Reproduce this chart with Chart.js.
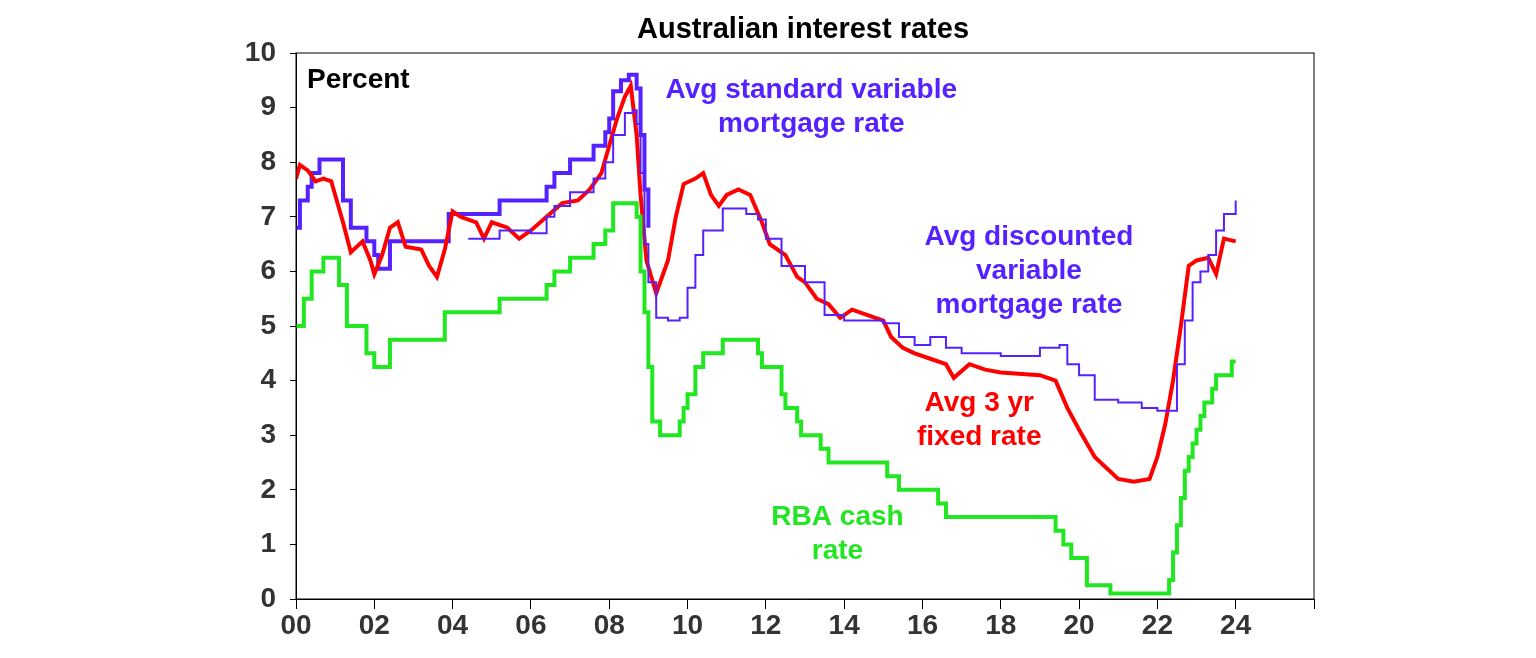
<!DOCTYPE html>
<html><head><meta charset="utf-8">
<script src="https://cdn.jsdelivr.net/npm/chart.js@4"></script>
<style>html,body{margin:0;padding:0;background:#fff}#w{width:1536px;height:658px}</style>
</head><body><div id="w"><canvas id="c"></canvas></div>
<script>
const cashX=[2000.0,2000.2,2000.4,2000.7,2001.1,2001.3,2001.8,2002.0,2002.4,2003.8,2005.2,2006.4,2006.6,2007.0,2007.6,2007.9,2008.1,2008.7,2008.8,2008.9,2009.0,2009.1,2009.3,2009.8,2009.9,2010.0,2010.2,2010.4,2010.9,2011.8,2011.9,2012.4,2012.5,2012.8,2012.9,2013.4,2013.6,2015.1,2015.4,2016.4,2016.6,2019.4,2019.6,2019.8,2020.2,2020.8,2022.3,2022.4,2022.5,2022.6,2022.7,2022.8,2022.9,2023.0,2023.1,2023.2,2023.4,2023.5,2023.9,2024.0];
const cashY=[5.0,5.5,6.0,6.25,5.75,5.0,4.5,4.25,4.75,5.25,5.5,5.75,6.0,6.25,6.5,6.75,7.25,7.0,6.0,5.25,4.25,3.25,3.0,3.25,3.5,3.75,4.25,4.5,4.75,4.5,4.25,3.75,3.5,3.25,3.0,2.75,2.5,2.25,2.0,1.75,1.5,1.25,1.0,0.75,0.25,0.1,0.35,0.85,1.35,1.85,2.35,2.6,2.85,3.1,3.35,3.6,3.85,4.1,4.35,4.35];
const stdX=[2000.0,2000.1,2000.3,2000.4,2000.6,2001.1,2001.2,2001.4,2001.8,2002.0,2002.1,2002.4,2003.8,2003.9,2005.2,2006.4,2006.6,2007.0,2007.6,2007.9,2008.0,2008.1,2008.3,2008.5,2008.6,2008.7,2008.8,2008.9,2009.0];
const stdY=[6.8,7.3,7.55,7.8,8.05,8.05,7.3,6.8,6.55,6.3,6.05,6.55,6.55,7.05,7.3,7.55,7.8,8.05,8.3,8.55,8.8,9.3,9.5,9.6,9.6,9.35,8.5,7.5,6.8];
const discX=[2004.4,2005.2,2006.0,2006.4,2006.6,2007.0,2007.6,2007.9,2008.1,2008.4,2008.6,2008.7,2008.8,2008.9,2009.0,2009.2,2009.5,2009.8,2010.0,2010.2,2010.4,2010.9,2011.5,2011.8,2012.0,2012.4,2013.0,2013.5,2014.0,2015.0,2015.4,2015.8,2016.2,2016.6,2017.0,2018.0,2019.0,2019.5,2019.7,2020.0,2020.4,2021.0,2021.6,2022.0,2022.3,2022.5,2022.7,2022.9,2023.1,2023.3,2023.5,2023.7,2023.9,2024.0];
const discY=[6.6,6.75,6.7,7.0,7.2,7.45,7.7,8.0,8.5,8.9,8.95,8.7,7.8,6.5,5.8,5.15,5.1,5.15,5.7,6.3,6.75,7.15,7.05,6.95,6.6,6.1,5.8,5.2,5.1,5.05,4.8,4.65,4.8,4.6,4.5,4.45,4.6,4.65,4.3,4.1,3.65,3.6,3.5,3.45,3.45,4.3,5.1,5.8,6.0,6.3,6.75,7.05,7.05,7.3];
const fixX=[2000.0,2000.1,2000.3,2000.5,2000.7,2000.9,2001.2,2001.4,2001.7,2001.9,2002.0,2002.2,2002.4,2002.6,2002.8,2003.2,2003.4,2003.6,2003.8,2004.0,2004.2,2004.6,2004.8,2005.0,2005.4,2005.7,2006.0,2006.4,2006.8,2007.2,2007.5,2007.8,2008.0,2008.2,2008.4,2008.55,2008.7,2008.8,2008.95,2009.2,2009.5,2009.7,2009.9,2010.2,2010.4,2010.6,2010.8,2011.0,2011.3,2011.6,2011.9,2012.1,2012.5,2012.8,2013.0,2013.3,2013.6,2013.9,2014.2,2014.6,2015.0,2015.2,2015.5,2015.8,2016.2,2016.6,2016.8,2017.2,2017.6,2018.0,2019.0,2019.4,2019.7,2020.0,2020.4,2020.7,2021.0,2021.4,2021.8,2022.0,2022.2,2022.4,2022.6,2022.8,2023.0,2023.3,2023.5,2023.7,2024.0];
const fixY=[7.7,7.95,7.85,7.65,7.7,7.65,6.9,6.35,6.55,6.2,5.95,6.3,6.8,6.9,6.45,6.4,6.1,5.9,6.4,7.1,7.0,6.9,6.6,6.9,6.8,6.6,6.75,7.0,7.25,7.3,7.5,7.8,8.3,8.8,9.2,9.4,8.5,7.4,6.2,5.6,6.2,7.0,7.6,7.7,7.8,7.4,7.2,7.4,7.5,7.4,6.9,6.5,6.3,5.9,5.8,5.5,5.4,5.15,5.3,5.2,5.1,4.8,4.6,4.5,4.4,4.3,4.05,4.3,4.2,4.15,4.1,4.0,3.5,3.1,2.6,2.4,2.2,2.15,2.2,2.6,3.2,4.0,5.0,6.1,6.2,6.25,5.95,6.6,6.55];
const xTicks=[0,2,4,6,8,10,12,14,16,18,20,22,24];
const labels=[
 {t:["Percent"],x:2000.28,y:9.5,c:"#000",a:"left"},
 {t:["Avg standard variable","mortgage rate"],x:2013.16,y:9.32,c:"#5522FF",a:"center"},
 {t:["Avg discounted","variable","mortgage rate"],x:2018.72,y:6.63,c:"#5522FF",a:"center"},
 {t:["Avg 3 yr","fixed rate"],x:2017.45,y:3.59,c:"#FF0000",a:"center"},
 {t:["RBA cash","rate"],x:2013.83,y:1.5,c:"#22E622",a:"center"}];
const pts=(xs,ys)=>xs.map((x,i)=>({x,y:ys[i]}));
const FONT="'Liberation Sans', Arial, sans-serif";
const deco={id:'deco',afterDraw(ch){const c=ch.ctx,a=ch.chartArea,sx=ch.scales.x,sy=ch.scales.y;
 c.save();c.strokeStyle='#000';c.lineWidth=1;c.strokeRect(a.left,a.top,a.right-a.left,a.bottom-a.top);
 c.fillStyle='#000';c.font="bold 29px "+FONT;c.textAlign='center';c.textBaseline='middle';c.fillText('Australian interest rates',803,30);
 c.font="bold 28px "+FONT;
 labels.forEach(l=>{c.fillStyle=l.c;c.textAlign=l.a;l.t.forEach((s,i)=>c.fillText(s,sx.getPixelForValue(l.x),sy.getPixelForValue(l.y)+i*34));});
 c.restore();}};
new Chart(document.getElementById('c'),{type:'line',
 data:{datasets:[
  {data:pts(cashX,cashY),borderColor:'#22E622',borderWidth:4,stepped:true,pointRadius:0},
  {data:pts(discX,discY),borderColor:'#5522FF',borderWidth:2,pointRadius:0,stepped:true},
  {data:pts(fixX,fixY),borderColor:'#FF0000',borderWidth:4,pointRadius:0},
  {data:pts(stdX,stdY),borderColor:'#5522FF',borderWidth:4,pointRadius:0,stepped:true}]},
 options:{responsive:true,maintainAspectRatio:false,animation:false,
  layout:{padding:{top:53,right:222,left:0,bottom:0}},
  plugins:{legend:{display:false},tooltip:{enabled:false}},
  scales:{
   x:{type:'linear',min:2000,max:2026,afterFit:s=>{s.height=59},
    afterBuildTicks:s=>{s.ticks=xTicks.concat([26]).map(v=>({value:2000+v}));},
    ticks:{autoSkip:false,maxRotation:0,color:'#333',font:{family:FONT,size:28,weight:'bold'},padding:0,
     callback:v=>{const d=v-2000;return xTicks.includes(d)?String(d).padStart(2,'0'):'';}},
    grid:{drawOnChartArea:false,color:'#000',tickLength:10},border:{color:'#000'}},
   y:{min:0,max:10,afterFit:s=>{s.width=296},
    ticks:{stepSize:1,color:'#333',font:{family:FONT,size:28,weight:'bold'},padding:14},
    grid:{drawOnChartArea:false,color:'#000',tickLength:6},border:{color:'#000'}}}},
 plugins:[deco]});
</script></body></html>
